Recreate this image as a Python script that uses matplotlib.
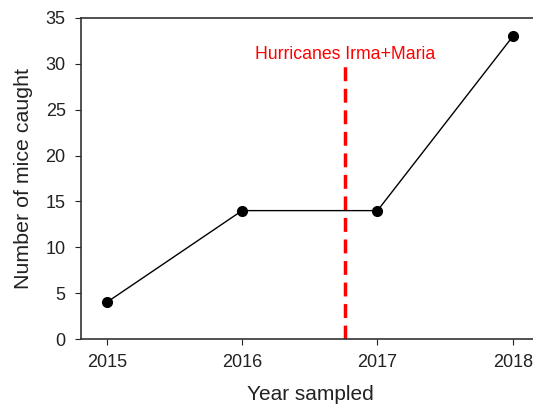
import matplotlib.pyplot as plt
import matplotlib

matplotlib.rcParams['font.family'] = ['Liberation Sans', 'DejaVu Sans']

years = [2015, 2016, 2017, 2018]
mice = [4, 14, 14, 33]
hurricane_x = 2016.76
hurricane_top = 29.8
label = 'Hurricanes Irma+Maria'

fig = plt.figure(figsize=(5.33, 4.08), dpi=100)
ax = fig.add_axes([0.152, 0.169, 1.013 - 0.152, 0.956 - 0.169])

ax.plot(years, mice, color='black', lw=1, marker='o', ms=7, zorder=3)
ax.plot([hurricane_x, hurricane_x], [0, hurricane_top], color='red', lw=2.5,
        dashes=(4, 2.2), zorder=2)
ax.text(hurricane_x, 31.0, label, color='red', fontsize=12.7, ha='center', va='center')

ax.set_xlim(2014.81, 2018.2)
ax.set_ylim(0, 35)
ax.set_xticks(years)
ax.set_yticks(range(0, 36, 5))
ax.spines['right'].set_visible(False)
for s in ['left', 'top', 'bottom']:
    ax.spines[s].set_linewidth(1.2)
    ax.spines[s].set_color('#333333')
ax.tick_params(direction='out', length=4, labelsize=13, colors='#222222', pad=7)
ax.set_xlabel('Year sampled', fontsize=15, labelpad=10, color='#222222')
ax.set_ylabel('Number of mice caught', fontsize=15.4, labelpad=9, color='#222222')

fig.savefig('out.png', dpi=100)
